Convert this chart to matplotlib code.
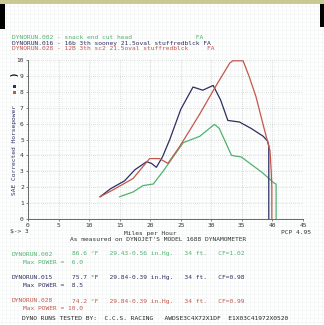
import matplotlib
matplotlib.use("Agg")
import matplotlib.pyplot as plt
from matplotlib.patches import Rectangle

# Dyno runs: speed (mph) vs SAE corrected horsepower
run002_mph = [15.0, 17.2, 18.8, 20.5, 22.1, 23.2, 25.4, 28.1, 30.5, 31.3, 33.3, 34.9, 38.4, 40.3, 40.6, 40.6]
run002_hp = [1.4, 1.7, 2.1, 2.2, 3.0, 3.6, 4.8, 5.2, 5.95, 5.7, 4.0, 3.9, 2.9, 2.25, 2.2, 0.0]

run015_mph = [11.8, 13.5, 15.8, 17.5, 19.4, 20.2, 21.0, 22.0, 23.2, 25.0, 27.0, 28.6, 30.3, 31.5, 32.7, 34.6, 36.5, 38.5, 39.2, 39.4, 39.4]
run015_hp = [1.4, 1.9, 2.4, 3.1, 3.6, 3.5, 3.25, 3.9, 5.0, 6.9, 8.3, 8.1, 8.4, 7.5, 6.2, 6.1, 5.7, 5.2, 4.9, 4.6, 0.0]

run028_mph = [11.8, 14.0, 17.2, 19.9, 21.5, 22.9, 24.8, 26.5, 28.1, 30.8, 33.0, 33.5, 35.2, 36.2, 37.3, 38.7, 39.6, 39.8, 39.9, 39.9]
run028_hp = [1.4, 1.85, 2.55, 3.8, 3.8, 3.5, 4.55, 5.6, 6.6, 8.4, 9.8, 9.95, 9.95, 8.95, 7.7, 5.6, 4.3, 3.0, 2.0, 0.0]

x_ticks = [0, 5, 10, 15, 20, 25, 30, 35, 40, 45]
y_ticks = list(range(0, 11))

titles = [
    "DYNORUN.002 - snack end cut head                 FA",
    "DYNORUN.016 - 16b 3th sooney 21.5oval stuffredblck FA",
    "DYNORUN.028 - 12B 3th sc2 21.5oval stuffredblck     FA",
]
conditions = [
    ("DYNORUN.002", "86.6 \u00b0F   29.43-0.56 in.Hg.   34 ft.   CF=1.02", "Max POWER =  6.0"),
    ("DYNORUN.015", "75.7 \u00b0F   29.84-0.39 in.Hg.   34 ft.   CF=0.98", "Max POWER =  8.5"),
    ("DYNORUN.028", "74.2 \u00b0F   29.84-0.39 in.Hg.   34 ft.   CF=0.99", "Max POWER = 10.0"),
]

GREEN = "#4fb26e"
NAVY = "#2e2f62"
RED = "#c4574c"
colors = [GREEN, NAVY, RED]

W, H = 324, 325
MONO = "DejaVu Sans Mono"
FS = 4.5


def px(x, y):
    """Pixel position (from top left) to figure fraction."""
    return x / W, 1 - y / H


fig = plt.figure(figsize=(W / 100, H / 100), dpi=100)
fig.patch.set_facecolor("white")

# faint paper grid in the background
bg = fig.add_axes([0, 0, 1, 1], zorder=-5)
bg.set_xlim(0, W)
bg.set_ylim(H, 0)
for gx in range(2, W, 4):
    bg.axvline(gx, color="#f1f3f3", lw=0.4)
for gy in range(2, H, 4):
    bg.axhline(gy, color="#f1f3f3", lw=0.4)
bg.add_patch(Rectangle((0, 0), W, 3.5, color="#c9c994", lw=0, zorder=5))
bg.add_patch(Rectangle((0, 4), 4.5, 25, color="black", lw=0, zorder=5))
bg.add_patch(Rectangle((319.5, 4), 4.5, 23, color="black", lw=0, zorder=5))
bg.add_patch(Rectangle((12.5, 85), 3, 3, color=NAVY, lw=0, zorder=5))
bg.add_patch(Rectangle((12.5, 90.5), 3, 3, color=RED, lw=0, zorder=5))
bg.axis("off")

x0, y0 = px(28, 219)
x1, y1 = px(303, 60)
ax = fig.add_axes([x0, y0, x1 - x0, y1 - y0])
ax.patch.set_alpha(0)

ax.plot(run002_mph, run002_hp, color=GREEN, lw=0.9)
ax.plot(run015_mph, run015_hp, color=NAVY, lw=0.9)
ax.plot(run028_mph, run028_hp, color=RED, lw=0.9)

ax.set_xlim(0, 45)
ax.set_ylim(0, 10)
ax.set_xticks(x_ticks)
ax.set_yticks(y_ticks)
ax.set_xticklabels([str(t) for t in x_ticks], fontsize=FS, family=MONO, color="#333333")
ax.set_yticklabels([str(t) for t in y_ticks], fontsize=FS, family=MONO, color="#333333")
ax.tick_params(length=1.5, width=0.5, pad=1.5, color="#555555")
ax.grid(True, color="#b9bcbc", lw=0.5, ls=(0, (1, 2)))
for side in ["top", "right"]:
    ax.spines[side].set_visible(False)
for side in ["left", "bottom"]:
    ax.spines[side].set_color("#666666")
    ax.spines[side].set_linewidth(0.7)

# header lines
for i, (t, c) in enumerate(zip(titles, colors)):
    fig.text(*px(12, 37.5 + i * 5.5), t, fontsize=FS, family=MONO, color=c, va="center")

fig.text(*px(15, 150), "SAE Corrected Horsepower", fontsize=FS, family=MONO,
         color=NAVY, rotation=90, ha="center", va="center")
fig.text(*px(14, 73), ")", fontsize=6, family=MONO, color="black",
         rotation=90, ha="center", va="center", weight="bold")

fig.text(*px(10, 232), "$-> 3", fontsize=FS, family=MONO, color="#333333", va="center")
fig.text(*px(150, 233), "Miles per Hour", fontsize=FS, family=MONO, color="#333333",
         ha="center", va="center")
fig.text(*px(296, 233), "PCP 4.95", fontsize=FS, family=MONO, color="#333333",
         ha="center", va="center")
fig.text(*px(158, 239.5), "As measured on DYNOJET'S MODEL 1688 DYNAMOMETER", fontsize=FS,
         family=MONO, color="#333333", ha="center", va="center")

for i, ((name, cond, power), c) in enumerate(zip(conditions, colors)):
    y = 254 + i * 23.5
    fig.text(*px(12, y), name, fontsize=FS, family=MONO, color=c, va="center")
    fig.text(*px(72, y), cond, fontsize=FS, family=MONO, color=c, va="center")
    fig.text(*px(23, y + 8), power, fontsize=FS, family=MONO, color=c, va="center")

fig.text(*px(22, 319), "DYNO RUNS TESTED BY:  C.C.S. RACING   AWDSE3C4X72X1DF  E1X03C41972X0520",
         fontsize=FS, family=MONO, color="#222222", va="center")

fig.savefig("out.png", dpi=100)
